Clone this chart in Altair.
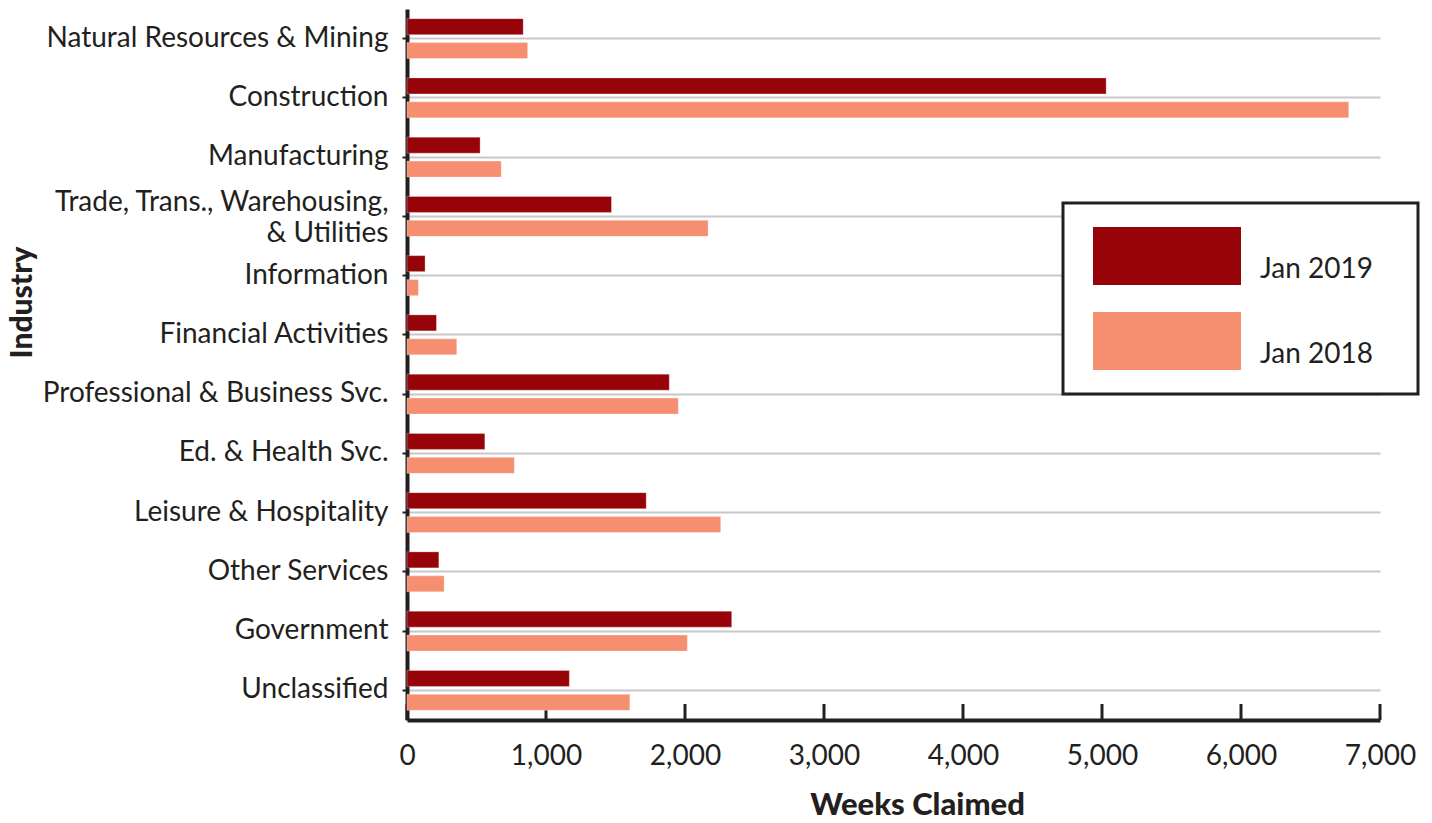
import altair as alt
import pandas as pd

industries = [
    "Natural Resources & Mining",
    "Construction",
    "Manufacturing",
    "Trade, Trans., Warehousing, & Utilities",
    "Information",
    "Financial Activities",
    "Professional & Business Svc.",
    "Ed. & Health Svc.",
    "Leisure & Hospitality",
    "Other Services",
    "Government",
    "Unclassified",
]
jan_2019 = [836, 5030, 526, 1471, 130, 212, 1887, 560, 1721, 229, 2336, 1168]
jan_2018 = [868, 6775, 678, 2166, 82, 358, 1952, 772, 2257, 267, 2017, 1603]
series = ["Jan 2019", "Jan 2018"]
colors = ["#96040a", "#f68e70"]
x_ticks = [0, 1000, 2000, 3000, 4000, 5000, 6000, 7000]

rows = []
for name, a, b in zip(industries, jan_2019, jan_2018):
    rows.append({"Industry": name, "Series": series[0], "Weeks": a})
    rows.append({"Industry": name, "Series": series[1], "Weeks": b})
df = pd.DataFrame(rows)
ticks_df = pd.DataFrame({"t": x_ticks})

W, H = 973, 711
FONT = "Lato"
TXT = "#231f20"
TWO_LINE = "Trade, Trans., Warehousing, & Utilities"

xscale = alt.Scale(domain=[0, 7000], nice=False)

tick_rules = alt.Chart(ticks_df).mark_rule(color=TXT, strokeWidth=3).encode(
    x=alt.X("t:Q", scale=xscale),
    y=alt.value(H),
    y2=alt.value(H - 16),
)

label_expr = (
    f"datum.value == '{TWO_LINE}' ? "
    "['Trade, Trans., Warehousing,', '& Utilities'] : datum.label"
)

bars = alt.Chart(df).mark_bar(stroke="#ffffff", strokeWidth=0.6, strokeOpacity=0.5).encode(
    x=alt.X(
        "Weeks:Q",
        scale=xscale,
        axis=alt.Axis(
            title="Weeks Claimed",
            values=x_ticks,
            format=",d",
            grid=False,
            ticks=False,
            domainColor=TXT,
            domainWidth=4,
            labelFontSize=28,
            labelPadding=22,
            labelColor=TXT,
            labelFont=FONT,
            labelFlush=False,
            titleFont=FONT,
            titleFontSize=31,
            titleFontWeight=900,
            titleColor=TXT,
            titleX=510,
            titleY=85,
            titleAlign="center",
            titleBaseline="middle",
        ),
    ),
    y=alt.Y(
        "Industry:N",
        sort=industries,
        scale=alt.Scale(paddingInner=0.325, paddingOuter=0.1625),
        axis=alt.Axis(
            title="Industry",
            grid=True,
            gridColor="#c8c8c8",
            gridWidth=2,
            domainColor=TXT,
            domainWidth=4,
            tickColor=TXT,
            tickSize=5,
            tickWidth=2,
            labelPadding=14,
            labelFontSize=28,
            labelFont=FONT,
            labelColor=TXT,
            labelLimit=500,
            labelLineHeight=31,
            labelExpr=label_expr,
            labelOffset={
                "condition": {"test": f"datum.value == '{TWO_LINE}'", "value": -13},
                "value": 0,
            },
            titleFont=FONT,
            titleFontSize=30,
            titleFontWeight=900,
            titleColor=TXT,
            titleX=-385,
            titleY=293,
            titleAngle=-90,
            titleAlign="center",
            titleBaseline="middle",
        ),
    ),
    yOffset=alt.YOffset("Series:N", sort=series, scale=alt.Scale(paddingInner=0.333, paddingOuter=0)),
    color=alt.Color(
        "Series:N",
        sort=series,
        scale=alt.Scale(domain=series, range=colors),
        legend=alt.Legend(
            title=None,
            orient="none",
            legendX=656,
            legendY=194,
            symbolType="M-1,-0.392H1V0.392H-1Z",
            symbolSize=21904,
            symbolStrokeWidth=0,
            symbolOffset=6,
            clipHeight=58,
            labelFont=FONT,
            labelFontSize=28,
            labelColor=TXT,
            labelOffset=19,
            labelBaseline="top",
            labelExpr="datum.label + '\u2800'",
            rowPadding=27,
            padding=24,
            strokeColor="#231f20",
            fillColor="#ffffff",
        ),
    ),
)

chart = (
    alt.layer(tick_rules, bars)
    .properties(
        width=W,
        height=H,
        autosize=alt.AutoSizeParams(type="none"),
        padding={"left": 399, "top": 1, "right": 44, "bottom": 104},
    )
    .configure_view(stroke=None)
    .configure_legend(strokeWidth=3)
)

chart.save("out.html", embed_options={"renderer": "svg", "actions": False})
